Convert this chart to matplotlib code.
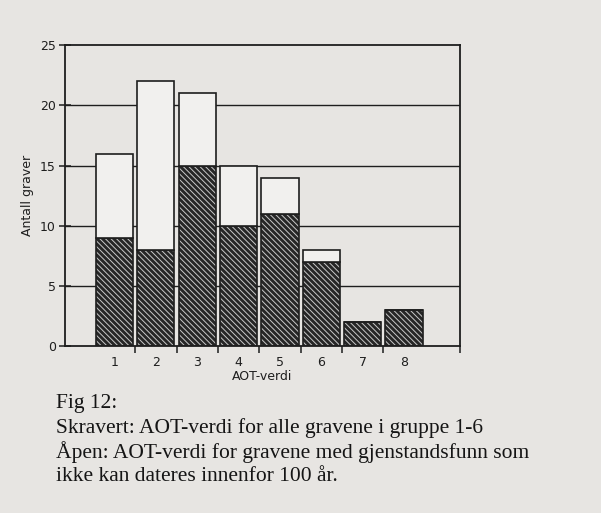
import matplotlib.pyplot as plt

# AOT values (x categories) and counts
aot = [1, 2, 3, 4, 5, 6, 7, 8]
skravert = [9, 8, 15, 10, 11, 7, 2, 3]      # hatched part
totalt = [16, 22, 21, 15, 14, 8, 2, 3]      # top of open box
apen = [t - s for t, s in zip(totalt, skravert)]

y_ticks = [0, 5, 10, 15, 20, 25]
caption = ["Fig 12:",
           "Skravert: AOT-verdi for alle gravene i gruppe 1-6",
           "Åpen: AOT-verdi for gravene med gjenstandsfunn som",
           "ikke kan dateres innenfor 100 år."]

paper = '#e7e5e2'
ink = '#1e1e1e'

fig = plt.figure(figsize=(6.01, 5.13), dpi=100, facecolor=paper)
ax = fig.add_axes([0.108, 0.325, 0.657, 0.587])
ax.set_facecolor(paper)

# gridlines behind bars
for y in y_ticks[1:-1]:
    ax.axhline(y, color=ink, lw=1.0, zorder=1)

w = 0.9
# hatched part: dark fill with fine light diagonal hatching
plt.rcParams['hatch.linewidth'] = 0.7
ax.bar(aot, skravert, width=w, color='#262626', edgecolor='#c8c8c8',
       hatch='\\\\\\\\\\\\', linewidth=0, zorder=2)
ax.bar(aot, skravert, width=w, fill=False, edgecolor=ink, linewidth=1.2, zorder=3)
# open part stacked on top
ax.bar(aot, apen, bottom=skravert, width=w, color='#f1f0ee',
       edgecolor=ink, linewidth=1.2, zorder=3)

ax.set_xlim(-0.2, 9.35)
ax.set_ylim(0, 25)

for s in ax.spines.values():
    s.set_color(ink)
    s.set_linewidth(1.3)

ax.set_yticks(y_ticks)
ax.tick_params(axis='y', direction='inout', length=9, width=1.1,
               color=ink, labelsize=9, labelcolor=ink, pad=2)
ax.set_xticks(aot)
ax.set_xticks([1.5, 2.5, 3.5, 4.5, 5.5, 6.5, 7.5, 9.35], minor=True)
ax.tick_params(axis='x', which='major', length=0, labelsize=9,
               labelcolor=ink, pad=7)
ax.tick_params(axis='x', which='minor', direction='out', length=5,
               width=1.1, color=ink)

ax.set_ylabel('Antall graver', fontsize=9, color=ink, labelpad=4)
ax.set_xlabel('AOT-verdi', fontsize=9, color=ink, labelpad=1)

# caption below the chart
y0 = 0.213
for i, line in enumerate(caption):
    fig.text(0.094, y0 - i * 0.047, line, family='Liberation Serif',
             fontsize=15.5, color='#151515', va='center')

fig.savefig('out.png', dpi=100, facecolor=paper)
